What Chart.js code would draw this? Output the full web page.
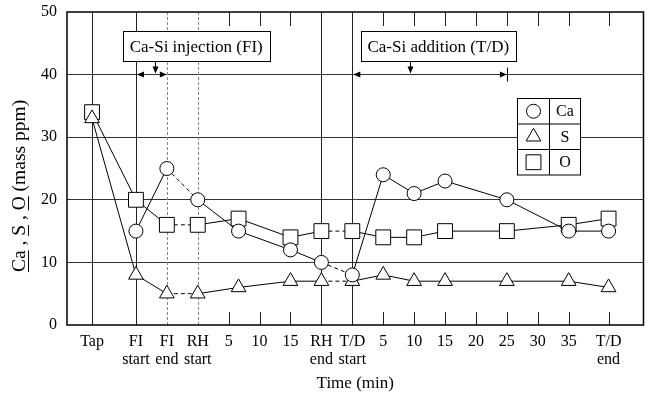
<!DOCTYPE html>
<html>
<head>
<meta charset="utf-8">
<script src="https://cdn.jsdelivr.net/npm/chart.js@4.4.0/dist/chart.umd.min.js"></script>
<style>
html, body { margin: 0; padding: 0; background: #fff; }
</style>
</head>
<body>
<canvas id="lineChart" width="655" height="400"></canvas>
<script>
// axis units: FI start = 1, one unit per sampling step
var tickPos = [-0.42, 1, 2, 3, 4, 5, 6, 7, 8, 9, 10, 11, 12, 13, 14, 15, 16.29];
var tickLabels = [['Tap'], ['FI', 'start'], ['FI', 'end'], ['RH', 'start'], ['5'], ['10'], ['15'],
    ['RH', 'end'], ['T/D', 'start'], ['5'], ['10'], ['15'], ['20'], ['25'], ['30'], ['35'], ['T/D', 'end']];

var samplePos = [-0.42, 1, 2, 3, 4.32, 6, 7, 8, 9, 10, 11, 13, 15, 16.29];
var caValues = [null, 15, 25, 20, 15, 12, 10, 8, 24, 21, 23, 20, 15, 15];
var sValues = [33, 8, 5, 5, 6, 7, 7, 7, 8, 7, 7, 7, 7, 6];
var oValues = [34, 20, 16, 16, 17, 14, 15, 15, 14, 14, 15, 15, 16, 17];

// segments (by start index) drawn dashed: FI end -> RH start, RH end -> T/D start
var dashedFrom = [2, 6];

var serif = 'Liberation Serif';

function toPoints(vals) {
    return vals.map(function (v, i) { return { x: samplePos[i], y: v }; });
}

function makeSet(label, vals, style, radius) {
    return {
        label: label,
        data: toPoints(vals),
        borderColor: '#000',
        borderWidth: 1,
        backgroundColor: '#fff',
        pointStyle: style,
        pointRadius: radius,
        pointBackgroundColor: '#fff',
        pointBorderColor: '#000',
        pointBorderWidth: 1,
        fill: false,
        tension: 0,
        segment: {
            borderDash: function (c) { return dashedFrom.indexOf(c.p0DataIndex) >= 0 ? [4, 3] : undefined; }
        }
    };
}

function arrowHead(ctx, x, y, dir) {
    // dir: 'l', 'r', 'd'
    ctx.beginPath();
    if (dir == 'l') { ctx.moveTo(x, y); ctx.lineTo(x + 7, y - 3); ctx.lineTo(x + 7, y + 3); }
    else if (dir == 'r') { ctx.moveTo(x, y); ctx.lineTo(x - 7, y - 3); ctx.lineTo(x - 7, y + 3); }
    else { ctx.moveTo(x, y); ctx.lineTo(x - 3, y - 7); ctx.lineTo(x + 3, y - 7); }
    ctx.closePath();
    ctx.fill();
}

var decor = {
    id: 'decor',
    beforeDatasetsDraw: function (chart) {
        var ctx = chart.ctx, a = chart.chartArea;
        var xs = chart.scales.x, ys = chart.scales.y;
        var fullLines = { 0: 'dark', 1: 'dark', 2: 'light', 3: 'light', 7: 'dark', 8: 'dark' };
        ctx.save();
        tickPos.forEach(function (v, i) {
            var px = Math.round(xs.getPixelForValue(v)) + 0.5;
            ctx.beginPath();
            if (fullLines[i]) {
                ctx.strokeStyle = fullLines[i] == 'dark' ? '#222' : '#888';
                ctx.setLineDash(fullLines[i] == 'dark' ? [] : [3, 2]);
                ctx.moveTo(px, a.top); ctx.lineTo(px, a.bottom);
            } else {
                ctx.strokeStyle = '#222';
                ctx.setLineDash([]);
                ctx.moveTo(px, a.top); ctx.lineTo(px, a.top + 14);
                ctx.moveTo(px, a.bottom); ctx.lineTo(px, a.bottom - 13);
            }
            ctx.lineWidth = 1;
            ctx.stroke();
        });
        ctx.setLineDash([]);

        // annotation boxes and arrows on the 40 ppm line
        var yl = ys.getPixelForValue(40);
        ctx.fillStyle = '#000';
        ctx.strokeStyle = '#000';
        ctx.lineWidth = 1;
        arrowHead(ctx, xs.getPixelForValue(1) + 1, yl, 'l');
        arrowHead(ctx, xs.getPixelForValue(2), yl, 'r');
        arrowHead(ctx, xs.getPixelForValue(8) + 1, yl, 'l');
        arrowHead(ctx, xs.getPixelForValue(13), yl, 'r');
        var ex = Math.round(xs.getPixelForValue(13)) + 0.5;
        ctx.beginPath(); ctx.moveTo(ex, yl - 7); ctx.lineTo(ex, yl + 7); ctx.stroke();

        var boxes = [
            { text: 'Ca-Si injection (FI)', center: 2.95, w: 147, arrow: 1.61 },
            { text: 'Ca-Si addition (T/D)', center: 10.78, w: 155, arrow: 9.86 }
        ];
        ctx.font = '17px "' + serif + '"';
        ctx.textAlign = 'center';
        ctx.textBaseline = 'middle';
        boxes.forEach(function (b) {
            var cx = xs.getPixelForValue(b.center);
            var x0 = Math.round(cx - b.w / 2) + 0.5, y0 = Math.round(yl - 44) + 0.5;
            ctx.fillStyle = '#fff';
            ctx.fillRect(x0, y0, b.w, 30);
            ctx.strokeRect(x0, y0, b.w, 30);
            ctx.fillStyle = '#000';
            ctx.fillText(b.text, cx, y0 + 16);
            var ax = Math.round(xs.getPixelForValue(b.arrow)) + 0.5;
            ctx.beginPath(); ctx.moveTo(ax, y0 + 30); ctx.lineTo(ax, yl - 2); ctx.stroke();
            arrowHead(ctx, ax, yl - 1, 'd');
        });

        // frame
        ctx.lineWidth = 1.5;
        ctx.strokeStyle = '#000';
        ctx.strokeRect(a.left, a.top, a.right - a.left, a.bottom - a.top);
        ctx.restore();
    },
    afterDatasetsDraw: function (chart) {
        var ctx = chart.ctx;
        var bx = 517.5, by = 98.5, c1 = 32, c2 = 31, rh = 25.5;
        ctx.save();
        ctx.fillStyle = '#fff';
        ctx.fillRect(bx, by, c1 + c2, rh * 3);
        ctx.strokeStyle = '#000';
        ctx.lineWidth = 1;
        ctx.strokeRect(bx, by, c1 + c2, rh * 3);
        ctx.beginPath();
        ctx.moveTo(bx + c1, by); ctx.lineTo(bx + c1, by + rh * 3);
        ctx.moveTo(bx, by + rh); ctx.lineTo(bx + c1 + c2, by + rh);
        ctx.moveTo(bx, by + rh * 2); ctx.lineTo(bx + c1 + c2, by + rh * 2);
        ctx.stroke();
        ctx.font = '16px "' + serif + '"';
        ctx.textAlign = 'center';
        ctx.textBaseline = 'middle';
        chart.data.datasets.forEach(function (ds, i) {
            var cy = by + rh * i + rh / 2;
            ctx.fillStyle = '#fff';
            Chart.helpers.drawPoint(ctx, { pointStyle: ds.pointStyle, radius: ds.pointRadius, rotation: 0, borderWidth: 1 }, bx + c1 / 2, cy);
            ctx.fillStyle = '#000';
            ctx.fillText(ds.label, bx + c1 + c2 / 2, cy + 1);
        });
        ctx.restore();
    },
    afterDraw: function (chart) {
        // y title with underlined element symbols
        var ctx = chart.ctx;
        var parts = [['Ca', true], [' , ', false], ['S', true], [' , ', false], ['O', true], [' (mass ppm)', false]];
        ctx.save();
        ctx.font = '19.5px "' + serif + '"';
        ctx.fillStyle = '#000';
        ctx.strokeStyle = '#000';
        ctx.lineWidth = 1;
        ctx.textBaseline = 'alphabetic';
        ctx.textAlign = 'left';
        var total = 0;
        parts.forEach(function (p) { total += ctx.measureText(p[0]).width; });
        ctx.translate(25, 186);
        ctx.rotate(-Math.PI / 2);
        var x = -total / 2;
        parts.forEach(function (p) {
            var w = ctx.measureText(p[0]).width;
            ctx.fillText(p[0], x, 0);
            if (p[1]) {
                ctx.beginPath(); ctx.moveTo(x, 3.5); ctx.lineTo(x + w, 3.5); ctx.stroke();
            }
            x += w;
        });
        ctx.restore();
    }
};

var ctx = document.getElementById('lineChart');
new Chart(ctx, {
    type: 'line',
    data: {
        datasets: [
            makeSet('Ca', caValues, 'circle', 7),
            makeSet('S', sValues, 'triangle', 8.5),
            makeSet('O', oValues, 'rect', 10.5)
        ]
    },
    options: {
        responsive: false,
        animation: false,
        layout: { padding: { top: 12, right: 8, left: 0, bottom: 0 } },
        plugins: { legend: { display: false }, tooltip: { enabled: false } },
        scales: {
            x: {
                type: 'linear',
                min: -1.23,
                max: 17.42,
                afterBuildTicks: function (s) { s.ticks = tickPos.map(function (v) { return { value: v }; }); },
                afterFit: function (s) { s.height = 75; s.paddingLeft = 0; s.paddingRight = 0; },
                grid: { display: false, drawTicks: false },
                border: { display: false },
                ticks: {
                    autoSkip: false,
                    maxRotation: 0,
                    padding: 8,
                    color: '#000',
                    font: { family: serif, size: 16, lineHeight: 1.1 },
                    callback: function (v, i) { return tickLabels[i]; }
                },
                title: {
                    display: true,
                    text: 'Time (min)',
                    color: '#000',
                    font: { family: serif, size: 17 },
                    padding: { top: 0, bottom: 6 }
                }
            },
            y: {
                min: 0,
                max: 50,
                afterFit: function (s) { s.width = 67; s.paddingTop = 0; s.paddingBottom = 0; },
                grid: {
                    drawTicks: false,
                    color: function (c) { return (c.tick.value == 0 || c.tick.value == 50) ? 'rgba(0,0,0,0)' : '#333'; }
                },
                border: { display: false },
                ticks: {
                    stepSize: 10,
                    padding: 10,
                    color: '#000',
                    font: { family: serif, size: 16 }
                }
            }
        }
    },
    plugins: [decor]
});
</script>
</body>
</html>
